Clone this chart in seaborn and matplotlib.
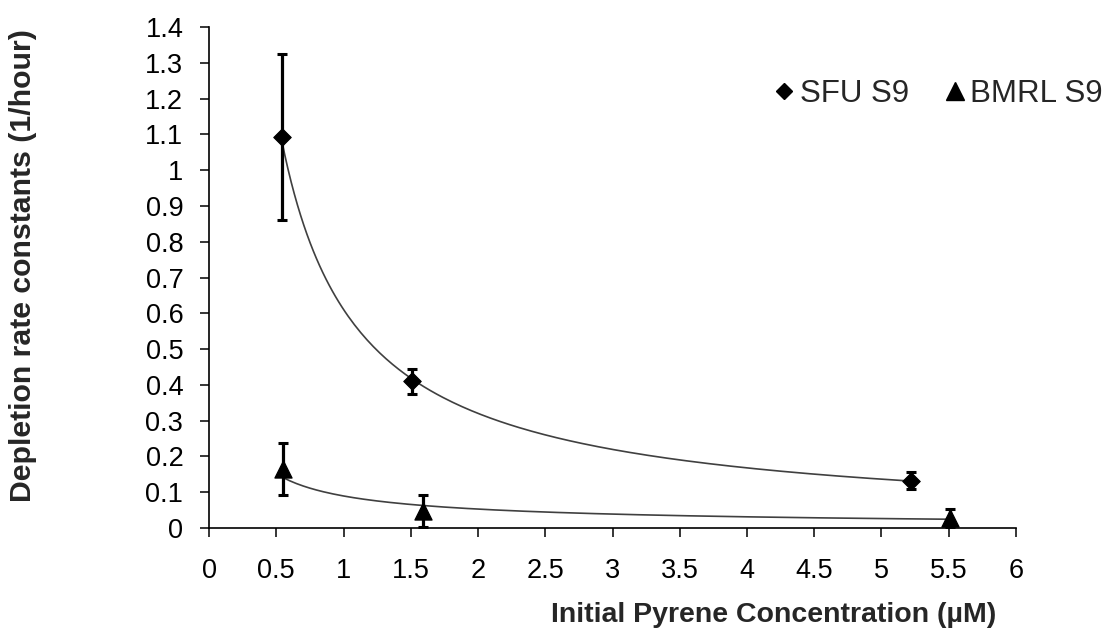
import numpy as np
import pandas as pd
import matplotlib
matplotlib.use("Agg")
import matplotlib.pyplot as plt
from matplotlib.lines import Line2D
import seaborn as sns

# ---- data ----
series_names = ["SFU S9", "BMRL S9"]
sfu_x = [0.54, 1.51, 5.22]
sfu_y = [1.093, 0.41, 0.132]
sfu_err = [0.233, 0.035, 0.024]
bmrl_x = [0.55, 1.59, 5.51]
bmrl_y = [0.165, 0.047, 0.028]
bmrl_err = [0.073, 0.045, 0.025]
x_ticks = [0, 0.5, 1, 1.5, 2, 2.5, 3, 3.5, 4, 4.5, 5, 5.5, 6]
y_ticks = [0, 0.1, 0.2, 0.3, 0.4, 0.5, 0.6, 0.7, 0.8, 0.9, 1, 1.1, 1.2, 1.3, 1.4]
x_label = "Initial Pyrene Concentration (\u00b5M)"
y_label = "Depletion rate constants (1/hour)"

sns.set_theme(style="ticks")
plt.rcParams["font.family"] = ["Liberation Sans", "DejaVu Sans"]

df = pd.DataFrame({
    "x": sfu_x + bmrl_x,
    "y": sfu_y + bmrl_y,
    "err": sfu_err + bmrl_err,
    "series": [series_names[0]] * 3 + [series_names[1]] * 3,
})

fig = plt.figure(figsize=(11.09, 6.30), dpi=100)
ax = fig.add_axes([0.1885, 0.1619, 0.7276, 0.7952])

# power-law trendlines (least squares in log-log space, like a spreadsheet power fit)
trend_rows = []
for name, xs, ys in [(series_names[0], sfu_x, sfu_y), (series_names[1], bmrl_x, bmrl_y)]:
    b, lna = np.polyfit(np.log(xs), np.log(ys), 1)
    xx = np.linspace(min(xs), max(xs), 200)
    trend_rows.append(pd.DataFrame({"x": xx, "y": np.exp(lna) * xx ** b, "series": name}))
trend = pd.concat(trend_rows)
sns.lineplot(data=trend, x="x", y="y", units="series", estimator=None,
             color="#404040", linewidth=1.2, ax=ax, legend=False, zorder=2)

# error bars
for name in series_names:
    sub = df[df.series == name]
    ax.errorbar(sub.x, sub.y, yerr=sub.err, fmt="none", ecolor="black",
                elinewidth=2.3, capsize=3.9, capthick=2.2, zorder=3)

# markers
sns.scatterplot(data=df[df.series == series_names[0]], x="x", y="y", marker="D",
                color="black", edgecolor="black", s=80, ax=ax, zorder=4, legend=False)
sns.scatterplot(data=df[df.series == series_names[1]], x="x", y="y", marker="^",
                color="black", edgecolor="black", s=150, ax=ax, zorder=4, legend=False)

ax.set_xlim(0, 6)
ax.set_ylim(0, 1.4)
ax.set_xticks(x_ticks)
ax.set_xticklabels([f"{v:g}" for v in x_ticks])
ax.set_yticks(y_ticks)
ax.set_yticklabels([f"{v:g}" for v in y_ticks])
ax.tick_params(axis="both", labelsize=19.5, length=6.5, width=1.1, color="black",
               direction="out", labelcolor="black")
ax.tick_params(axis="x", pad=15)
ax.tick_params(axis="y", pad=12)
for s in ["top", "right"]:
    ax.spines[s].set_visible(False)
for s in ["left", "bottom"]:
    ax.spines[s].set_color("black")
    ax.spines[s].set_linewidth(1.2)

ax.set_xlabel("")
ax.set_ylabel("")
fig.text(0.698, 0.0127, x_label, ha="center", va="baseline",
         fontsize=20.5, fontweight="bold")
fig.text(0.0207, 0.578, y_label, ha="center", va="center",
         rotation=90, fontsize=21.8, fontweight="bold")

handles = [Line2D([], [], marker="D", color="black", linestyle="none", markersize=8.2),
           Line2D([], [], marker="^", color="black", linestyle="none", markersize=12.5)]
fig.legend(handles, series_names, loc="center left", bbox_to_anchor=(0.6844, 0.851),
           ncol=2, frameon=False, fontsize=22.5, handletextpad=0.1, columnspacing=1.07,
           handlelength=0.8, borderpad=0.4, borderaxespad=0)

fig.savefig("out.png", dpi=100, facecolor="white")
